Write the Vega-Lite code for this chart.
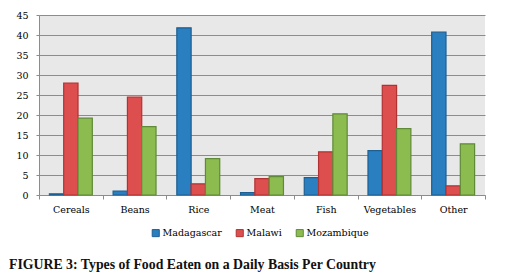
{
  "$schema": "https://vega.github.io/schema/vega-lite/v6.json",
  "width": 446,
  "height": 180,
  "autosize": {"type": "none"},
  "padding": {"left": 39, "top": 15, "right": 22, "bottom": 83},
  "background": "white",
  "title": {
    "text": "FIGURE 3: Types of Food Eaten on a Daily Basis Per Country",
    "orient": "bottom",
    "anchor": "start",
    "frame": "group",
    "font": "Liberation Serif",
    "fontSize": 13.8,
    "fontWeight": "bold",
    "color": "#111111",
    "offset": 19,
    "dx": -30
  },
  "data": {
    "values": [
      {"food": "Cereals", "country": "Madagascar", "value": 0.3},
      {"food": "Cereals", "country": "Malawi", "value": 28.0},
      {"food": "Cereals", "country": "Mozambique", "value": 19.2},
      {"food": "Beans", "country": "Madagascar", "value": 1.0},
      {"food": "Beans", "country": "Malawi", "value": 24.5},
      {"food": "Beans", "country": "Mozambique", "value": 17.1},
      {"food": "Rice", "country": "Madagascar", "value": 41.8},
      {"food": "Rice", "country": "Malawi", "value": 2.8},
      {"food": "Rice", "country": "Mozambique", "value": 9.1},
      {"food": "Meat", "country": "Madagascar", "value": 0.6},
      {"food": "Meat", "country": "Malawi", "value": 4.1},
      {"food": "Meat", "country": "Mozambique", "value": 4.6},
      {"food": "Fish", "country": "Madagascar", "value": 4.35},
      {"food": "Fish", "country": "Malawi", "value": 10.8},
      {"food": "Fish", "country": "Mozambique", "value": 20.3},
      {"food": "Vegetables", "country": "Madagascar", "value": 11.1},
      {"food": "Vegetables", "country": "Malawi", "value": 27.4},
      {"food": "Vegetables", "country": "Mozambique", "value": 16.6},
      {"food": "Other", "country": "Madagascar", "value": 40.7},
      {"food": "Other", "country": "Malawi", "value": 2.3},
      {"food": "Other", "country": "Mozambique", "value": 12.8}
    ]
  },
  "mark": {"type": "bar", "strokeWidth": 1.2},
  "encoding": {
    "x": {
      "field": "food",
      "type": "nominal",
      "sort": ["Cereals", "Beans", "Rice", "Meat", "Fish", "Vegetables", "Other"],
      "scale": {"paddingInner": 0, "paddingOuter": 0},
      "axis": {
        "title": null,
        "labelAngle": 0,
        "tickBand": "extent",
        "tickSize": 4,
        "labelPadding": 5,
        "domainColor": "#8c8c8c",
        "tickColor": "#8c8c8c",
        "grid": false
      }
    },
    "xOffset": {
      "field": "country",
      "sort": ["Madagascar", "Malawi", "Mozambique"],
      "scale": {"paddingInner": 0, "paddingOuter": 0.727}
    },
    "y": {
      "field": "value",
      "type": "quantitative",
      "scale": {"domain": [0, 45], "nice": false},
      "axis": {
        "title": null,
        "values": [0, 5, 10, 15, 20, 25, 30, 35, 40, 45],
        "tickSize": 3,
        "labelPadding": 8,
        "domainColor": "#8c8c8c",
        "tickColor": "#8c8c8c",
        "gridColor": "#8c8c8c",
        "gridWidth": 1
      }
    },
    "color": {
      "field": "country",
      "type": "nominal",
      "scale": {"domain": ["Madagascar", "Malawi", "Mozambique"], "range": ["#2a7fc1", "#dd4f4f", "#8cbc50"]},
      "legend": {"title": null}
    },
    "stroke": {
      "field": "country",
      "type": "nominal",
      "scale": {"domain": ["Madagascar", "Malawi", "Mozambique"], "range": ["#1c5f92", "#b23232", "#5f8a37"]},
      "legend": {"title": null}
    }
  },
  "config": {
    "view": {"fill": "#e8e8e8", "stroke": null},
    "axis": {
      "labelFont": "DejaVu Serif",
      "labelFontSize": 9.5,
      "labelColor": "#000000",
      "domainWidth": 1,
      "tickWidth": 1
    },
    "legend": {
      "orient": "none",
      "legendX": 112,
      "legendY": 213,
      "direction": "horizontal",
      "symbolType": "square",
      "symbolSize": 50,
      "symbolStrokeWidth": 1,
      "labelFont": "DejaVu Serif",
      "labelFontSize": 9.5,
      "labelColor": "#000000",
      "labelOffset": 2,
      "columnPadding": 12
    }
  }
}
